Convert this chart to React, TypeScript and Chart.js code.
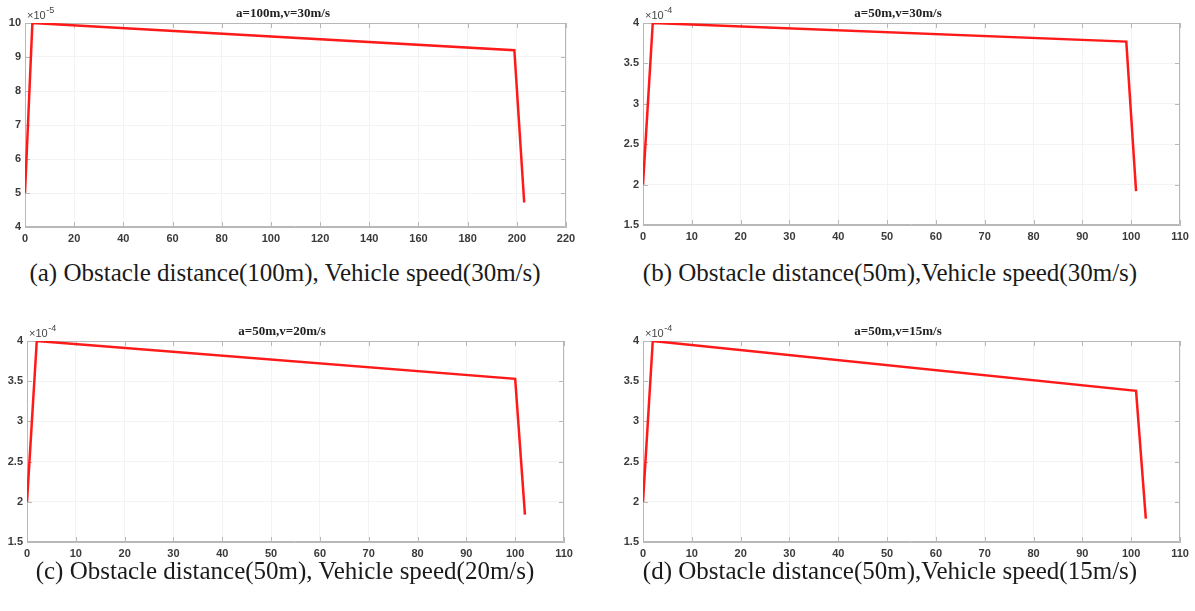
import React, { useEffect, useRef } from 'react';
import { Chart, registerables } from 'chart.js';
Chart.register(...registerables);

// ---- data (y values shown in units of the axis multiplier) ----
const titles = ['a=100m,v=30m/s', 'a=50m,v=30m/s', 'a=50m,v=20m/s', 'a=50m,v=15m/s'];
const captions = [
  '(a) Obstacle distance(100m), Vehicle speed(30m/s)',
  '(b) Obstacle distance(50m),Vehicle speed(30m/s)',
  '(c) Obstacle distance(50m), Vehicle speed(20m/s)',
  '(d) Obstacle distance(50m),Vehicle speed(15m/s)',
];
const exponents = ['-5', '-4', '-4', '-4'];

const xA = [0, 3, 199, 203];
const yA = [5, 10, 9.2, 4.72];
const xB = [0, 2, 99, 101];
const yB = [2, 4, 3.77, 1.92];
const xC = [0, 2, 100, 102];
const yC = [2, 4, 3.53, 1.84];
const xD = [0, 2, 101, 103];
const yD = [2, 4, 3.38, 1.79];

const xMax = [220, 110, 110, 110];
const xStep = [20, 10, 10, 10];
const yMin = [4, 1.5, 1.5, 1.5];
const yMax = [10, 4, 4, 4];
const yStep = [1, 0.5, 0.5, 0.5];

const seriesX = [xA, xB, xC, xD];
const seriesY = [yA, yB, yC, yD];

// ---- layout (page px) ----
const plotBoxes = [
  { pl: 25, pt: 23, pr: 566, pb: 227, divLeft: 0 },
  { pl: 643, pt: 23, pr: 1180, pb: 225, divLeft: 616 },
  { pl: 27, pt: 341, pr: 564, pb: 542, divLeft: 0 },
  { pl: 643, pt: 341, pr: 1180, pb: 542, divLeft: 616 },
];
const captionTops = [258, 258, 556, 556];

const framePlugin = {
  id: 'frame',
  beforeDatasetsDraw(chart: any) {
    const { ctx, chartArea } = chart;
    const { left, top, right, bottom } = chartArea;
    const xs = chart.scales.x;
    const ys = chart.scales.y;
    ctx.save();
    ctx.strokeStyle = '#b8b8b8';
    ctx.lineWidth = 1;
    ctx.beginPath();
    ctx.rect(left + 0.5, top + 0.5, right - left - 1, bottom - top - 1);
    ctx.stroke();
    ctx.beginPath();
    xs.ticks.forEach((t: any) => {
      const px = Math.round(xs.getPixelForValue(t.value)) + 0.5;
      ctx.moveTo(px, top);
      ctx.lineTo(px, top + 5);
      ctx.moveTo(px, bottom);
      ctx.lineTo(px, bottom - 5);
    });
    ys.ticks.forEach((t: any) => {
      const py = Math.round(ys.getPixelForValue(t.value)) + 0.5;
      ctx.moveTo(left, py);
      ctx.lineTo(left + 5, py);
      ctx.moveTo(right, py);
      ctx.lineTo(right - 5, py);
    });
    ctx.stroke();
    ctx.restore();
  },
  afterDraw(chart: any, _args: any, opts: any) {
    const { ctx, chartArea } = chart;
    ctx.save();
    ctx.fillStyle = '#444';
    ctx.textBaseline = 'alphabetic';
    ctx.font = '11px "Liberation Sans", Arial, sans-serif';
    const base = '\u00d710';
    const x0 = chartArea.left + 2;
    const y0 = chartArea.top - 4;
    ctx.fillText(base, x0, y0);
    const w = ctx.measureText(base).width;
    ctx.font = '9px "Liberation Sans", Arial, sans-serif';
    ctx.fillText(opts.exp || '', x0 + w + 0.5, y0 - 6);
    ctx.restore();
  },
};

function Panel({ idx }: { idx: number }) {
  const ref = useRef<HTMLCanvasElement>(null);
  const b = plotBoxes[idx];
  const divTop = b.pt - 23;
  const divLeft = b.divLeft;
  const width = b.pr + 15 - divLeft;
  const height = b.pb + 25 - divTop;

  useEffect(() => {
    if (!ref.current) return;
    const pts = seriesX[idx].map((x, i) => ({ x, y: seriesY[idx][i] }));
    const tickFont = { family: '"Liberation Sans", Arial, sans-serif', size: 11, weight: 'bold' as const };
    const chart = new Chart(ref.current, {
      type: 'line',
      data: {
        datasets: [
          {
            data: pts,
            borderColor: '#ff1a1a',
            borderWidth: 2.5,
            pointRadius: 0,
            tension: 0,
            fill: false,
          },
        ],
      },
      options: {
        animation: false,
        responsive: false,
        maintainAspectRatio: false,
        layout: { padding: { left: 0, top: 0, right: 15, bottom: 0 } },
        plugins: {
          legend: { display: false },
          tooltip: { enabled: false },
          title: {
            display: true,
            text: titles[idx],
            color: '#222',
            font: { family: '"Liberation Serif", "Times New Roman", serif', size: 13, weight: 'bold', lineHeight: 1 },
            padding: { top: 7, bottom: 3 },
          },
          // @ts-ignore
          frame: { exp: exponents[idx] },
        },
        scales: {
          x: {
            type: 'linear',
            min: 0,
            max: xMax[idx],
            afterFit: (s: any) => {
              s.height = 25;
            },
            ticks: {
              stepSize: xStep[idx],
              color: '#3a3a3a',
              font: tickFont,
              padding: 5,
              maxRotation: 0,
              callback: (v: any) => String(v),
            },
            grid: { color: '#f3f3f3', drawTicks: false },
            border: { display: true, color: '#b8b8b8' },
          },
          y: {
            type: 'linear',
            min: yMin[idx],
            max: yMax[idx],
            afterFit: (s: any) => {
              s.width = b.pl - divLeft;
            },
            ticks: {
              stepSize: yStep[idx],
              color: '#3a3a3a',
              font: tickFont,
              padding: 4,
              callback: (v: any) => String(v),
            },
            grid: { color: '#f3f3f3', drawTicks: false },
            border: { display: true, color: '#b8b8b8' },
          },
        },
      },
      plugins: [framePlugin],
    });
    return () => chart.destroy();
  }, [idx]);

  return (
    <>
      <div style={{ position: 'absolute', left: divLeft, top: divTop, width, height }}>
        <canvas ref={ref} width={width} height={height} style={{ width, height, display: 'block' }} />
      </div>
      <div
        style={{
          position: 'absolute',
          left: idx % 2 === 0 ? 0 : 595,
          width: idx % 2 === 0 ? 570 : 590,
          top: captionTops[idx],
          textAlign: 'center',
          fontFamily: '"Liberation Serif", "Times New Roman", serif',
          fontSize: 25,
          lineHeight: '30px',
          color: '#1a1a1a',
          whiteSpace: 'nowrap',
        }}
      >
        {captions[idx]}
      </div>
    </>
  );
}

export default function App() {
  return (
    <div style={{ position: 'absolute', left: 0, top: 0, width: 1195, height: 611, background: '#fff', overflow: 'hidden' }}>
      {[0, 1, 2, 3].map((i) => (
        <Panel key={i} idx={i} />
      ))}
    </div>
  );
}
